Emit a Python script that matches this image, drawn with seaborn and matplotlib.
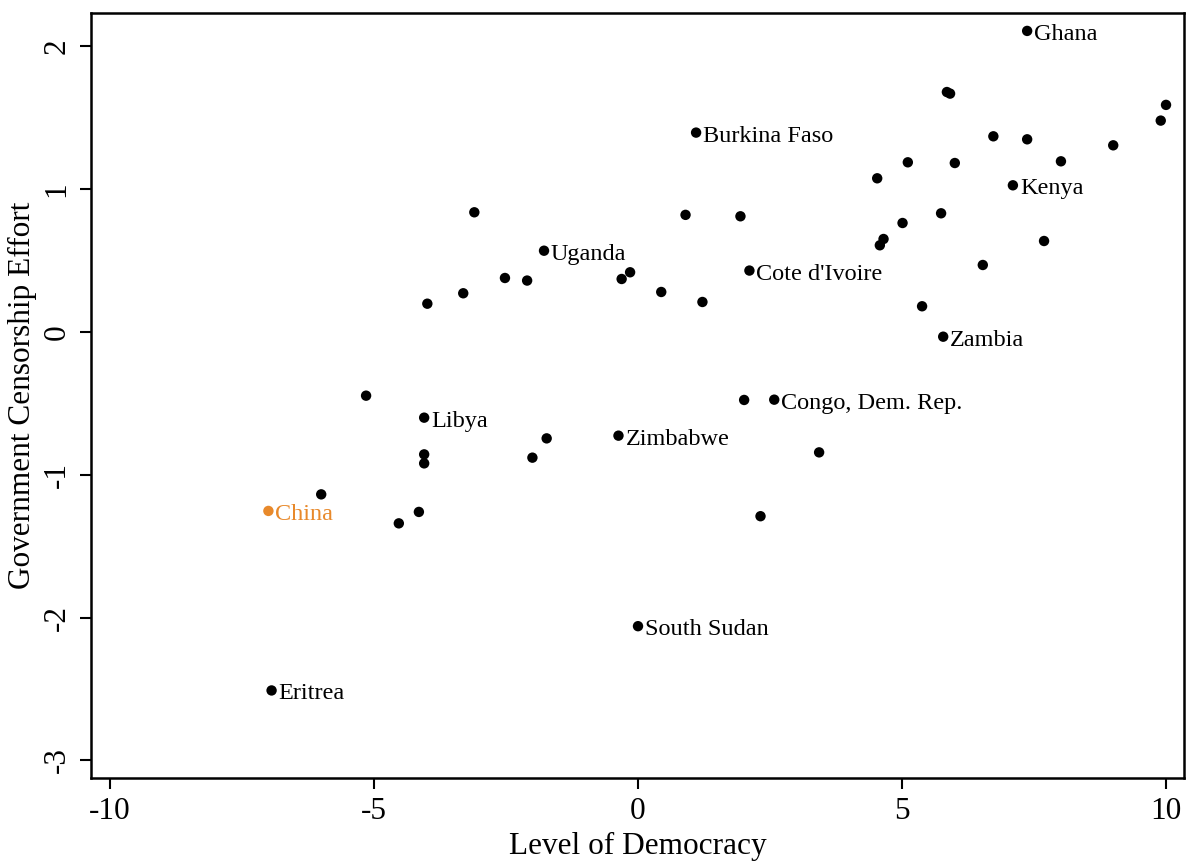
import matplotlib
matplotlib.use("Agg")
import matplotlib.pyplot as plt
import seaborn as sns
import pandas as pd

democracy = [7.37, 5.85, 5.91, 10.0, 9.90, 1.10, 6.73, 7.37, 9.00, 5.11, 6.00, 8.01, 4.53, 7.10,
             -3.10, 0.90, 1.94, 5.74, 5.01, 4.65, 4.58, 7.69, -1.78, 6.53, 2.11, -0.15, -2.52,
             -0.31, -2.10, 0.44, -3.31, 1.22, -3.99, 5.38, 5.78, -5.15, 2.01, 2.58, -4.05, -0.37,
             -1.73, 3.43, -4.05, -2.00, -4.05, -6.00, -7.00, -4.15, 2.32, -4.53, 0.00, -6.94]
censorship = [2.108, 1.68, 1.669, 1.59, 1.48, 1.396, 1.37, 1.349, 1.307, 1.188, 1.183, 1.195, 1.076, 1.027,
              0.838, 0.82, 0.81, 0.831, 0.763, 0.651, 0.607, 0.637, 0.569, 0.469, 0.43, 0.418, 0.378,
              0.371, 0.36, 0.28, 0.271, 0.21, 0.198, 0.18, -0.033, -0.446, -0.476, -0.474, -0.60, -0.726,
              -0.745, -0.843, -0.857, -0.88, -0.92, -1.137, -1.253, -1.26, -1.29, -1.34, -2.06, -2.51]
labels = ["Ghana", "", "", "", "", "Burkina Faso", "", "", "", "", "", "", "", "Kenya",
          "", "", "", "", "", "", "", "", "Uganda", "", "Cote d'Ivoire", "", "",
          "", "", "", "", "", "", "", "Zambia", "", "", "Congo, Dem. Rep.", "Libya", "Zimbabwe",
          "", "", "", "", "", "", "China", "", "", "", "South Sudan", "Eritrea"]
highlight = ["China" if l == "China" else "Other" for l in labels]

df = pd.DataFrame({"democracy": democracy, "censorship": censorship,
                   "label": labels, "group": highlight})

sns.set_theme(style="ticks")
plt.rcParams["font.family"] = ["Liberation Serif", "DejaVu Serif"]
plt.rcParams["text.color"] = "black"
plt.rcParams["axes.labelcolor"] = "black"
plt.rcParams["xtick.color"] = "black"
plt.rcParams["ytick.color"] = "black"

fig = plt.figure(figsize=(11.91, 8.61), dpi=100)
ax = fig.add_axes([0.0764, 0.0964, 0.9177, 0.8886])

palette = {"Other": "black", "China": "#e8892b"}
sns.scatterplot(data=df, x="democracy", y="censorship", hue="group", palette=palette,
                s=56, linewidth=0, legend=False, ax=ax)

for _, r in df.iterrows():
    if r["label"]:
        ax.annotate(r["label"], (r["democracy"], r["censorship"]), xytext=(5, -2.5),
                    textcoords="offset points", va="center", ha="left", fontsize=17.5,
                    color=palette[r["group"]])

ax.set_xlim(-10.36, 10.34)
ax.set_ylim(-3.123, 2.234)
ax.set_xticks([-10, -5, 0, 5, 10])
ax.set_yticks([-3, -2, -1, 0, 1, 2])
ax.set_xticklabels(["-10", "-5", "0", "5", "10"])
ax.set_yticklabels(["-3", "-2", "-1", "0", "1", "2"], rotation=90, va="center")
ax.tick_params(axis="both", labelsize=22.5, length=8, width=1.5, direction="out", pad=6, color="black")
ax.set_xlabel("Level of Democracy", fontsize=22.5, labelpad=4)
ax.set_ylabel("Government Censorship Effort", fontsize=22.5, labelpad=4)
for sp in ax.spines.values():
    sp.set_linewidth(1.8)
    sp.set_color("black")

fig.savefig("out.png", dpi=100)
